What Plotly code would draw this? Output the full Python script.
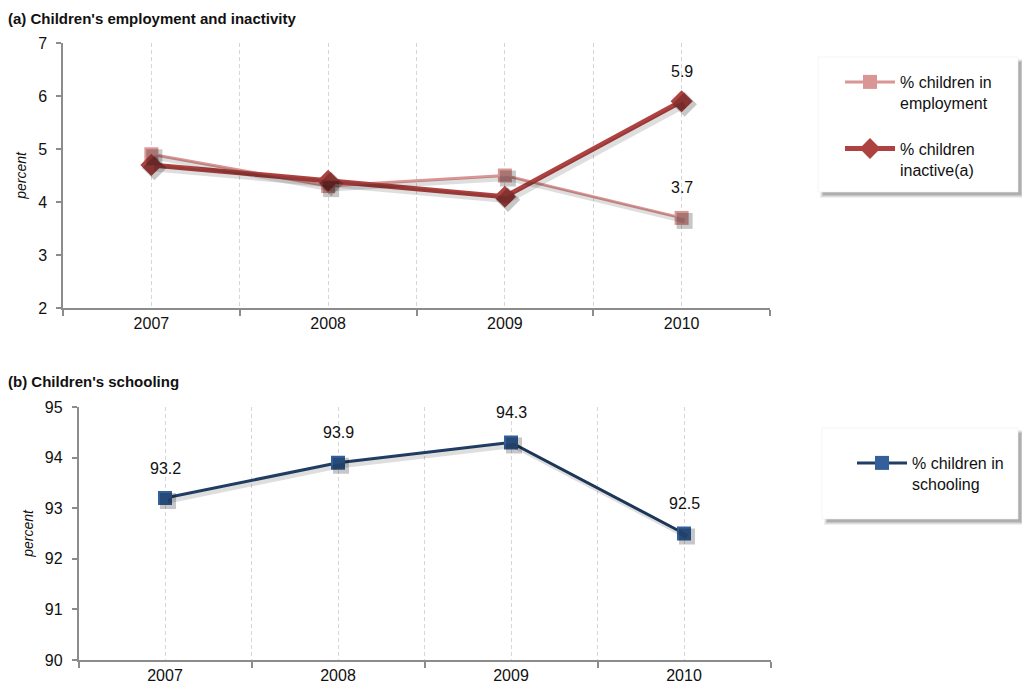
import plotly.graph_objects as go

# ---- data ----
years = ["2007", "2008", "2009", "2010"]
employment = [4.9, 4.3, 4.5, 3.7]
inactive = [4.7, 4.4, 4.1, 5.9]
schooling = [93.2, 93.9, 94.3, 92.5]

# which points carry a value label
employment_labelled = [False, False, False, True]
inactive_labelled = [False, False, False, True]
schooling_labelled = [True, True, True, True]

W, H = 1022, 686
FONT = "Liberation Sans Narrow, Arial Narrow, Liberation Sans, Arial"
TXT = "#111111"
PINK = "#D99694"
RED = "#AE4240"
NAVY = "#203E63"
BLUE = "#33609A"
AXIS = "#8C8C8C"
GRID = "#D6D6D6"

xs = list(range(len(years)))


def px(x):
    return x / W


def py(y):
    return 1 - y / H


# plot area boxes (pixels): left, right, top, bottom
A = dict(l=63, r=770, t=43, b=308)
B = dict(l=78.5, r=770.5, t=407, b=660)
SH = 3  # shadow offset in px

shadow_traces = []
main_traces = []
labels = []


def add_series(axes, shadow_axes, y, color, width, symbol, size, mcolor, name,
               legend, group, labelled):
    # soft drop shadow drawn on an offset overlay axis
    shadow_traces.append(go.Scatter(
        x=xs, y=y, xaxis=shadow_axes[0], yaxis=shadow_axes[1], mode="lines+markers",
        line=dict(color="rgba(0,0,0,0.13)", width=width + 2),
        marker=dict(symbol=symbol, size=size + 2, color="rgba(0,0,0,0.22)"),
        showlegend=False, hoverinfo="skip"))
    main_traces.append(go.Scatter(
        x=xs, y=y, xaxis=axes[0], yaxis=axes[1], mode="lines+markers",
        name=name, legend=legend, legendgroup=group, showlegend=True,
        line=dict(color=color, width=width),
        marker=dict(symbol=symbol, size=size, color=mcolor)))
    for xi, v, on in zip(xs, y, labelled):
        if on:
            labels.append(dict(x=xi, y=v, xref=axes[0], yref=axes[1],
                               text=f"{v:.1f}", showarrow=False, yshift=30,
                               xanchor="center", yanchor="middle",
                               font=dict(family=FONT, size=16, color=TXT)))


add_series(("x", "y"), ("x3", "y3"), employment, PINK, 3, "square", 14, PINK,
           "% children in<br>employment", "legend", "g1", employment_labelled)
add_series(("x", "y"), ("x3", "y3"), inactive, RED, 5, "diamond", 17, RED,
           "% children<br>inactive(a)", "legend", "g2", inactive_labelled)
add_series(("x2", "y2"), ("x4", "y4"), schooling, NAVY, 3, "square", 14, BLUE,
           "% children in<br>schooling", "legend2", "g3", schooling_labelled)

fig = go.Figure(data=shadow_traces + main_traces)


def xaxis_def(box, shift=0, visible=True):
    d = dict(
        domain=[px(box["l"] + shift), px(box["r"] + shift)],
        range=[-0.5, len(years) - 0.5],
        tickvals=xs, ticktext=years, ticks="",
        showgrid=True, gridcolor=GRID, griddash="4px,3px", gridwidth=1,
        minor=dict(tick0=-0.5, dtick=1, showgrid=True, gridcolor=GRID,
                   griddash="4px,3px", ticks="outside", ticklen=6,
                   tickcolor=AXIS, tickwidth=1.5),
        showline=True, linecolor=AXIS, linewidth=2,
        tickfont=dict(family=FONT, size=16, color=TXT),
        ticklabelstandoff=0,
        zeroline=False, fixedrange=True, automargin=False,
    )
    if not visible:
        d = dict(domain=d["domain"], range=d["range"], visible=False,
                 fixedrange=True, automargin=False)
    return d


def yaxis_def(box, rng, dtick, shift=0, visible=True):
    d = dict(
        domain=[py(box["b"] + shift), py(box["t"] + shift)],
        range=rng, dtick=dtick, ticks="outside", ticklen=5,
        tickcolor=AXIS, tickwidth=1.5,
        showline=True, linecolor=AXIS, linewidth=1.5,
        showgrid=False, zeroline=False,
        tickfont=dict(family=FONT, size=16, color=TXT),
        ticklabelstandoff=6,
        title=dict(text="<i>percent</i>", standoff=8,
                   font=dict(family=FONT, size=14, color=TXT)),
        fixedrange=True, automargin=False,
    )
    if not visible:
        d = dict(domain=d["domain"], range=rng, visible=False, fixedrange=True,
                 automargin=False)
    return d


fig.update_layout(
    width=W, height=H,
    margin=dict(l=0, r=0, t=0, b=0, autoexpand=False),
    paper_bgcolor="white", plot_bgcolor="rgba(0,0,0,0)",
    font=dict(family=FONT, size=16, color=TXT),
    xaxis=dict(xaxis_def(A), anchor="y"),
    yaxis=dict(yaxis_def(A, [2, 7], 1), anchor="x"),
    xaxis2=dict(xaxis_def(B), anchor="y2"),
    yaxis2=dict(yaxis_def(B, [90, 95], 1), anchor="x2"),
    xaxis3=dict(xaxis_def(A, SH, False), anchor="y3"),
    yaxis3=dict(yaxis_def(A, [2, 7], 1, SH, False), anchor="x3"),
    xaxis4=dict(xaxis_def(B, SH, False), anchor="y4"),
    yaxis4=dict(yaxis_def(B, [90, 95], 1, SH, False), anchor="x4"),
    legend=dict(x=px(840), y=py(65), xanchor="left", yanchor="top",
                bgcolor="rgba(0,0,0,0)", tracegroupgap=22, valign="top",
                font=dict(family=FONT, size=16, color=TXT),
                itemwidth=50),
    legend2=dict(x=px(852), y=py(446), xanchor="left", yanchor="top",
                 bgcolor="rgba(0,0,0,0)", valign="top",
                 font=dict(family=FONT, size=16, color=TXT),
                 itemwidth=50),
    showlegend=True,
    annotations=labels,
)


def legend_box(x0, y0, x1, y1):
    # layered soft shadow, then white panel
    for i, a in enumerate([0.06, 0.08, 0.10, 0.12]):
        o = 6 - i
        fig.add_shape(type="rect", xref="paper", yref="paper",
                      x0=px(x0 + 2 + i), x1=px(x1 + o), y0=py(y1 + o), y1=py(y0 + 2 + i),
                      line=dict(width=0), fillcolor=f"rgba(0,0,0,{a})", layer="below")
    fig.add_shape(type="rect", xref="paper", yref="paper",
                  x0=px(x0), x1=px(x1), y0=py(y1), y1=py(y0),
                  line=dict(width=0.6, color="#EEEEEE"), fillcolor="white", layer="below")


legend_box(818, 57, 1018, 192)
legend_box(822, 428, 1018, 519)

# panel titles
for text, y in [("<b>(a) Children's employment and inactivity</b>", 18),
                ("<b>(b) Children's schooling</b>", 381)]:
    fig.add_annotation(text=text, xref="paper", yref="paper",
                       x=px(6), y=py(y), xanchor="left", yanchor="middle",
                       showarrow=False,
                       font=dict(family=FONT, size=15, color=TXT))

fig.write_html("out.html")
